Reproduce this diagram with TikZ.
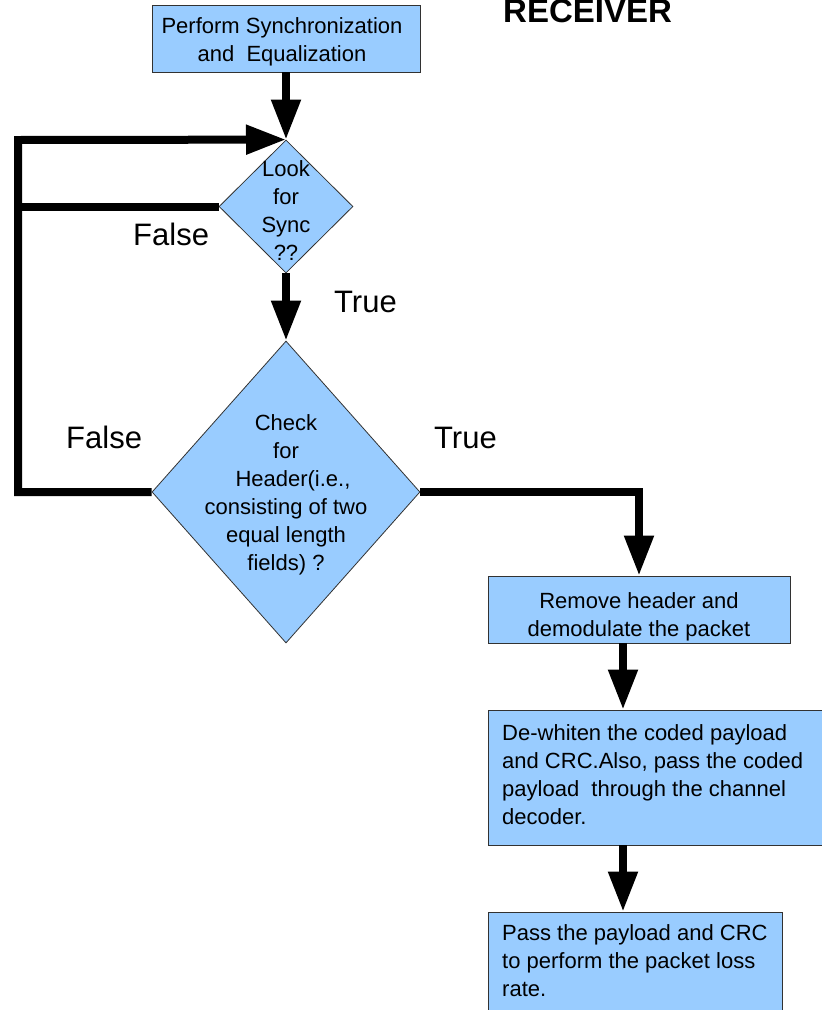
\documentclass[tikz,border=0pt]{standalone}
\usepackage{fontspec}
\setmainfont{Liberation Sans}
\usetikzlibrary{arrows.meta,shapes.geometric}
\definecolor{boxblue}{RGB}{153,204,255}
\definecolor{edgegray}{RGB}{50,50,50}

\begin{document}
\begin{tikzpicture}[x=1pt,y=-1pt,
  blk/.style={draw=edgegray,line width=0.8pt,fill=boxblue,rectangle,inner sep=0pt},
  dec/.style={draw=edgegray,line width=0.8pt,fill=boxblue,diamond,inner sep=0pt},
  txt/.style={inner sep=0pt,font=\fontsize{22}{28}\selectfont},
  lbl/.style={inner sep=0pt,font=\fontsize{31}{36}\selectfont,anchor=base west},
  wire/.style={line width=8pt,line join=miter},
  flow/.style={wire,-{Triangle[length=40pt,width=28pt]}}]
\useasboundingbox (0,0) rectangle (822,1010);
\clip (0,0) rectangle (822,1010);

% process boxes
\node[blk,minimum width=268pt,minimum height=67pt] (b1) at (286,38.5) {};
\node[blk,minimum width=302pt,minimum height=67pt] (b2) at (639,609.5) {};
\node[blk,minimum width=352pt,minimum height=135pt] (b3) at (664,777.5) {};
\node[blk,minimum width=294pt,minimum height=110pt] (b4) at (635,967) {};

% decisions
\node[dec,minimum width=134pt,minimum height=133pt] (d1) at (286,206.5) {};
\node[dec,minimum width=268pt,minimum height=302pt] (d2) at (286,492) {};

% texts (anchored on the baseline of their last line)
\node[txt,align=center,anchor=base] (t1) at (282,61) {Perform Synchronization\\and\ \ Equalization};
\node[txt,align=center,anchor=base] (t2) at (639,636) {Remove header and\\demodulate the packet};
\node[txt,align=left,anchor=base west] (t3) at (502,824) {De-whiten the coded payload\\and CRC.Also, pass the coded\\payload\ \ through the channel\\decoder.};
\node[txt,align=left,anchor=base west] (t4) at (502,996) {Pass the payload and CRC\\to perform the packet loss\\rate.};
\node[txt,align=center,anchor=base] (t5) at (286,260) {Look\\for\\Sync\\??};
\node[txt,align=center,anchor=base] (t6) at (286,570) {Check\\for\\\hspace*{14pt}Header(i.e.,\\consisting of two\\equal length\\fields) ?};

% branch labels and title
\node[lbl] (f1) at (133,245) {False};
\node[lbl] (tr1) at (334,312) {True};
\node[lbl] (f2) at (66,448) {False};
\node[lbl] (tr2) at (434,448) {True};
\node[inner sep=0pt,anchor=base west,font=\fontsize{33}{38}\selectfont\bfseries] (rx) at (503,22) {RECEIVER};

% connectors
\coordinate (lft) at (18,140);
\coordinate (ax) at (623,0);
\draw[flow] (b1.south) -- (d1.north);
\draw[flow] (d2.west) -| (lft) -- (d1.north);
\draw[wire] (d1.west) -- (d1.west -| lft);
\draw[flow] (d1.south) -- (d2.north);
\draw[flow] (d2.east) -| (b2.north);
\draw[flow] (b2.south -| ax) -- (b3.north -| ax);
\draw[flow] (b3.south -| ax) -- (b4.north -| ax);
\end{tikzpicture}
\end{document}
